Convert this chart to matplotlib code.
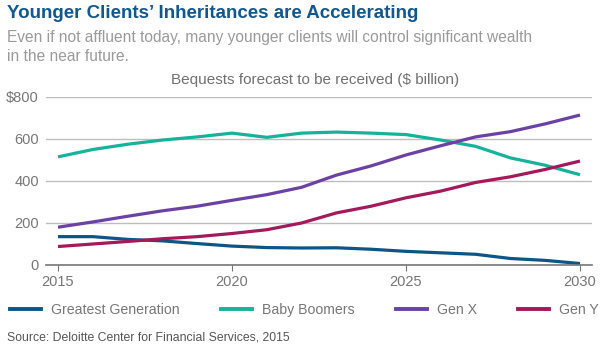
import matplotlib.pyplot as plt
from matplotlib.lines import Line2D

plt.rcParams['font.family'] = ['Liberation Sans', 'DejaVu Sans']

years = list(range(2015, 2031))
greatest = [135, 135, 122, 115, 102, 90, 83, 81, 82, 75, 65, 58, 51, 31, 22, 7]
boomers = [515, 550, 575, 595, 610, 628, 608, 628, 633, 628, 621, 595, 565, 510, 475, 430]
gen_x = [180, 205, 232, 258, 280, 308, 335, 370, 428, 472, 524, 568, 610, 635, 672, 714]
gen_y = [88, 100, 112, 125, 135, 150, 168, 200, 248, 280, 320, 352, 393, 420, 455, 495]

series = [
    ("Greatest Generation", greatest, "#0b5686"),
    ("Baby Boomers", boomers, "#16b29a"),
    ("Gen X", gen_x, "#6b42a4"),
    ("Gen Y", gen_y, "#a3195b"),
]

fig = plt.figure(figsize=(6.02, 3.52), dpi=100)
ax = fig.add_axes([46 / 602, 87 / 352, 546 / 602, 168 / 352])

for name, vals, col in series:
    ax.plot(years, vals, color=col, lw=2.3, solid_capstyle='butt', clip_on=False)

ax.set_xlim(2015 - 12 / 34.8, 2030 + 12 / 34.8)
ax.set_ylim(0, 800)
ax.set_yticks([0, 200, 400, 600, 800])
ax.set_yticklabels(["0", "200", "400", "600", "$800"])
ax.set_xticks([2015, 2020, 2025, 2030])
ax.grid(axis='y', color='#bdbdbd', lw=1)
ax.set_axisbelow(True)
for s in ['top', 'right', 'left']:
    ax.spines[s].set_visible(False)
ax.spines['bottom'].set_color('#777777')
ax.spines['bottom'].set_linewidth(1.2)
ax.tick_params(axis='y', length=0, pad=5, labelsize=10.5, labelcolor='#777777')
ax.tick_params(axis='x', length=4, color='#777777', labelsize=10.5, labelcolor='#777777', pad=3)

fig.text(7 / 602, 1 - 13 / 352, "Younger Clients’ Inheritances are Accelerating",
         fontsize=13.5, fontweight='bold', color='#11588f', va='center')
fig.text(7 / 602, 1 - 47 / 352,
         "Even if not affluent today, many younger clients will control significant wealth\nin the near future.",
         fontsize=11.2, color='#9a9a9a', va='center', linespacing=1.4)
fig.text(315 / 602, 1 - 80 / 352, "Bequests forecast to be received ($ billion)",
         fontsize=11, color='#707070', ha='center', va='center')

handles = [Line2D([], [], color=c, lw=2.8) for _, _, c in series]
fig.legend(handles, [n for n, _, _ in series], loc='center left',
           bbox_to_anchor=(10 / 602, 1 - 310 / 352), ncol=4, frameon=False,
           fontsize=10.2, labelcolor='#777777', handlelength=2.2,
           handletextpad=0.7, columnspacing=2.9, borderaxespad=0, borderpad=0)

fig.text(7 / 602, 1 - 338 / 352, "Source: Deloitte Center for Financial Services, 2015",
         fontsize=8.8, color='#555555', va='center')

fig.savefig("out.png", dpi=100)
